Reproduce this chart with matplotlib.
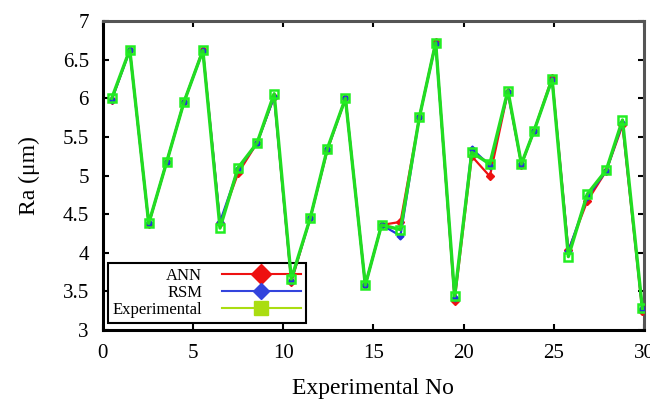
import matplotlib
matplotlib.use('Agg')
import matplotlib.pyplot as plt
from matplotlib.lines import Line2D

exp_no = [0.5, 1.5, 2.55, 3.55, 4.5, 5.55, 6.5, 7.5, 8.55, 9.5,
          10.45, 11.5, 12.45, 13.45, 14.55, 15.45, 16.5, 17.55, 18.45, 19.5,
          20.45, 21.45, 22.45, 23.2, 23.9, 24.9, 25.8, 26.85, 27.9, 28.8, 29.9]

ra_exp = [6.00, 6.63, 4.38, 5.18, 5.95, 6.62, 4.32, 5.10, 5.42, 6.06,
          3.66, 4.45, 5.35, 6.00, 3.58, 4.36, 4.30, 5.76, 6.72, 3.44,
          5.30, 5.15, 6.10, 5.15, 5.58, 6.25, 3.95, 4.76, 5.07, 5.72, 3.28]

ra_ann = [5.98, 6.63, 4.37, 5.18, 5.95, 6.63, 4.38, 5.03, 5.42, 6.02,
          3.62, 4.45, 5.33, 6.00, 3.58, 4.36, 4.40, 5.76, 6.73, 3.38,
          5.25, 4.99, 6.08, 5.14, 5.58, 6.27, 4.03, 4.67, 5.06, 5.65, 3.24]

ra_rsm = [5.98, 6.62, 4.38, 5.18, 5.95, 6.61, 4.40, 5.08, 5.42, 6.02,
          3.64, 4.45, 5.34, 6.00, 3.58, 4.36, 4.22, 5.76, 6.71, 3.42,
          5.35, 5.13, 6.08, 5.15, 5.58, 6.24, 4.02, 4.72, 5.06, 5.68, 3.27]

plt.rcParams['font.family'] = ['Liberation Serif', 'DejaVu Serif']

fig = plt.figure(figsize=(6.5, 3.99), dpi=100)
ax = fig.add_axes([0.158, 0.173, 0.833, 0.774])

# curves sit above the legend box, as in the original
ax.plot(exp_no, ra_ann, color='#ee1111', lw=1.6, marker='D', ms=4, zorder=6)
ax.plot(exp_no, ra_rsm, color='#2233dd', lw=1.6, marker='D', ms=3.5, zorder=7)
ax.plot(exp_no, ra_exp, color='#22dd22', lw=2.4, marker='s', ms=5.5,
        mfc='none', mec='#22ee22', mew=1.8, zorder=8)

ax.set_xlim(0, 30)
ax.set_ylim(3, 7)
ax.set_xticks(range(0, 31, 5))
ax.set_yticks([3, 3.5, 4, 4.5, 5, 5.5, 6, 6.5, 7])
ax.set_yticklabels(['3', '3.5', '4', '4.5', '5', '5.5', '6', '6.5', '7'])
ax.tick_params(direction='in', length=4, width=1.5, labelsize=15, top=True, right=True)
ax.tick_params(axis='y', pad=10)
ax.tick_params(axis='x', pad=10)

for side in ['left', 'bottom']:
    ax.spines[side].set_linewidth(2.2)
for side in ['top', 'right']:
    ax.spines[side].set_linewidth(2.2)
    ax.spines[side].set_color('#555555')

ax.set_xlabel('Experimental No', fontsize=17, labelpad=11)
ax.set_ylabel('Ra (\u03bcm)', fontsize=17, labelpad=16)

handles = [
    Line2D([], [], color='#ee1111', lw=1.5, marker='D', ms=10),
    Line2D([], [], color='#3344dd', lw=1.5, marker='D', ms=8),
    Line2D([], [], color='#aadd11', lw=1.5, marker='s', ms=10),
]
leg = ax.legend(handles, ['ANN', 'RSM', 'Experimental'], loc='lower left',
                bbox_to_anchor=(0.009, 0.023), borderaxespad=0, markerfirst=False,
                fancybox=False, edgecolor='black', framealpha=1, fontsize=12,
                handlelength=4.7, handletextpad=1.2, labelspacing=0.06,
                borderpad=0.3)
leg.get_frame().set_linewidth(1.5)
leg.set_zorder(5)

plt.savefig('out.png', dpi=100)
